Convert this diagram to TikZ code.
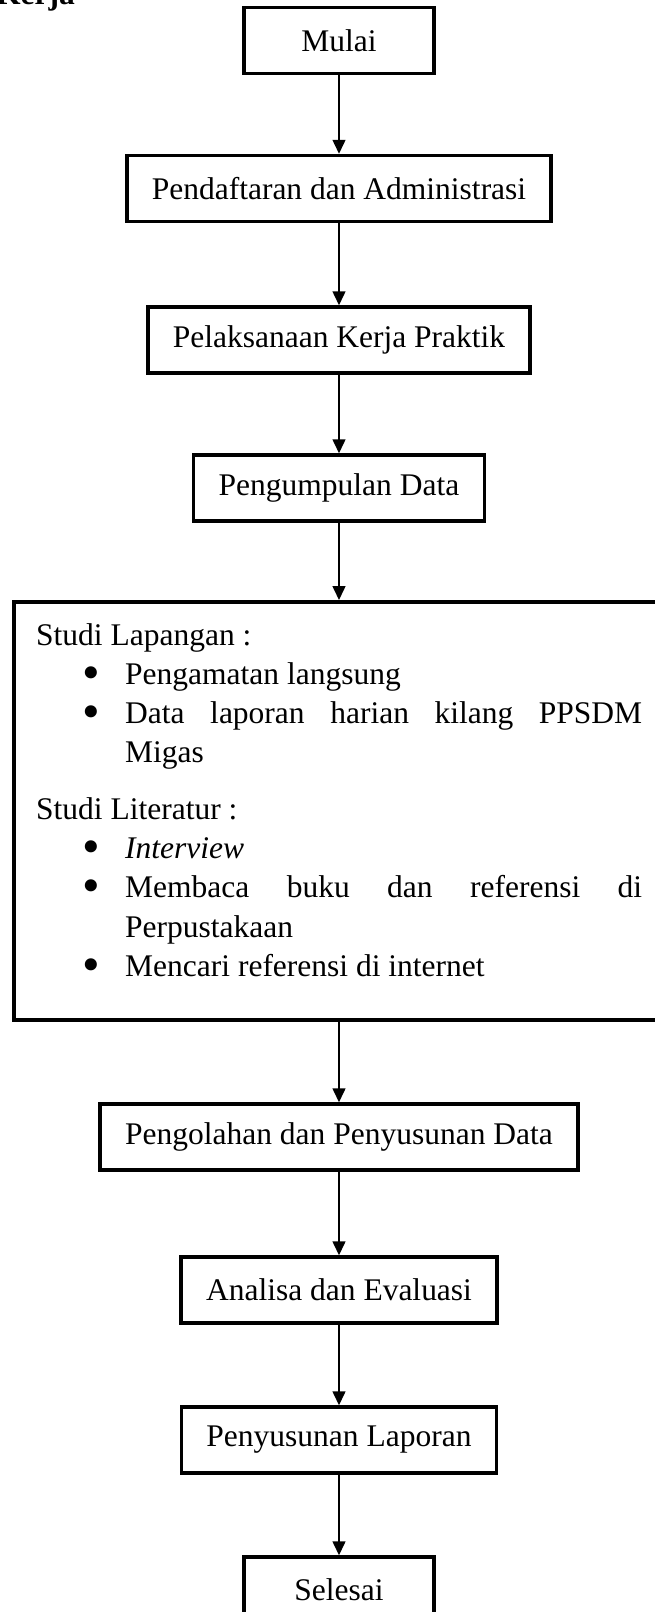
\documentclass[tikz,border=0pt]{standalone}
\usepackage{fontspec}
\usepackage{graphicx}
\setmainfont{Liberation Serif}
\usetikzlibrary{arrows.meta}
\newcommand{\butir}{\hspace*{46pt}\makebox[43pt][l]{\raisebox{-5pt}{\scalebox{1.6}{\textbullet}}}}
\newcommand{\sisip}{\hspace*{89pt}}

\begin{document}
\begin{tikzpicture}[x=1pt, y=-1pt, font=\fontsize{31.5}{39.3}\selectfont]
  \tikzstyle{kotak} = [rectangle, draw, line width=3.5pt, minimum width=190pt,
    minimum height=66pt, inner xsep=25pt]
  \tikzstyle{panah} = [line width=1.5pt, -{Triangle[length=14pt, width=13pt]}]
  \useasboundingbox (0,0) rectangle (655,1612);

  % judul (terpotong di tepi atas)
  \node[font=\fontsize{31.5}{39.3}\selectfont\bfseries, anchor=base east, inner sep=0] (judul) at (75,4) {Kerja};

  % kotak alur utama
  \foreach \nama/\y/\isi in {mulai/40.5/Mulai, daftar/188.5/Pendaftaran dan Administrasi,
      laksana/340/Pelaksanaan Kerja Praktik, kumpul/488/Pengumpulan Data,
      olah/1137/Pengolahan dan Penyusunan Data, analisa/1290/Analisa dan Evaluasi,
      susun/1440/Penyusunan Laporan, selesai/1590/Selesai}
    \node[kotak] (\nama) at (339,\y) {\isi};

  % kotak studi lapangan & literatur
  \node[kotak, anchor=north west, minimum width=660pt, minimum height=418pt] (studi) at (12,600) {};
  \node[anchor=north west, inner sep=0, align=left] (studiisi) at (36,623) {%
    Studi Lapangan :\\
    \butir Pengamatan langsung\\
    \butir\makebox[517pt][s]{Data laporan harian kilang PPSDM}\\
    \sisip Migas\\[17pt]
    Studi Literatur :\\
    \butir\textit{Interview}\\
    \butir\makebox[517pt][s]{Membaca buku dan referensi di}\\
    \sisip Perpustakaan\\
    \butir Mencari referensi di internet};

  % panah
  \foreach \dari/\ke in {mulai/daftar, daftar/laksana, laksana/kumpul, kumpul/studi,
      studi/olah, olah/analisa, analisa/susun, susun/selesai}
    \draw[panah] (\dari.south -| mulai) -- (\ke.north -| mulai);
\end{tikzpicture}
\end{document}
